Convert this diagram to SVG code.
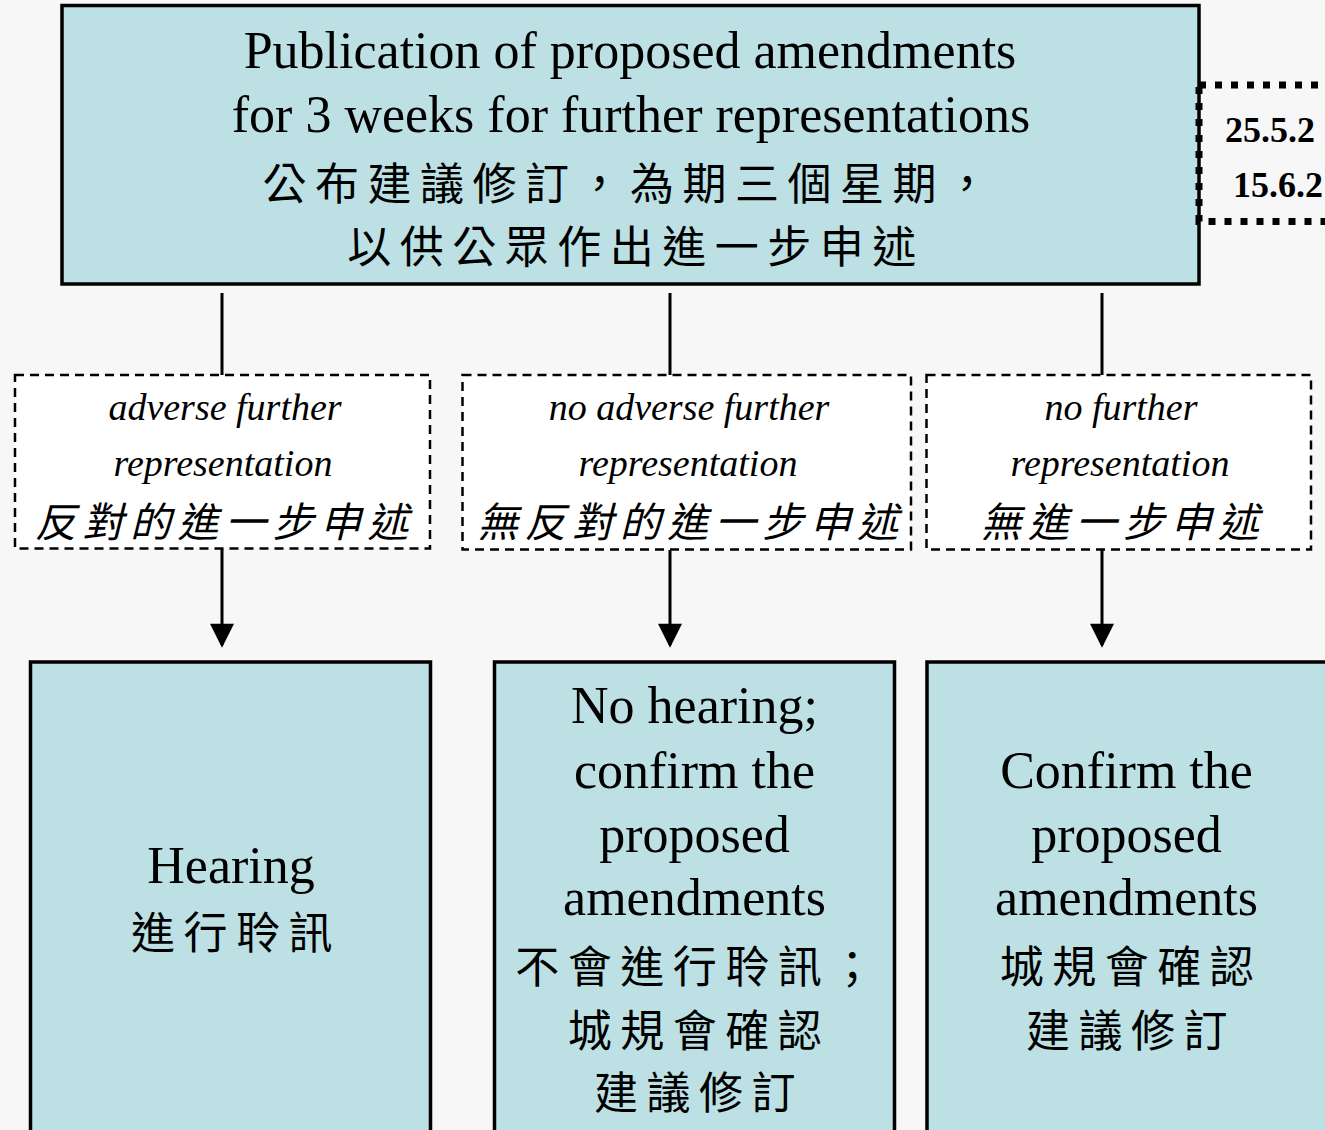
<svg xmlns="http://www.w3.org/2000/svg" width="1325" height="1130" viewBox="0 0 1325 1130">
<defs>
<style>
.box{fill:#bce0e3;stroke:#000;stroke-width:3.5}
.dash{fill:#fff;stroke:#000;stroke-width:2.5;stroke-dasharray:9 6}
.en{font-family:"Liberation Serif","DejaVu Serif",serif;font-size:52px;fill:#000;text-anchor:middle}
.it{font-family:"Liberation Serif","DejaVu Serif",serif;font-size:38px;font-style:italic;fill:#000;text-anchor:middle}
.zh{font-family:"Liberation Serif","Noto Sans CJK TC",serif;font-size:44px;letter-spacing:8.5px;fill:#000;text-anchor:middle}
.zhi{font-family:"Liberation Serif","Noto Sans CJK TC",serif;font-size:41px;letter-spacing:6.5px;font-style:italic;fill:#000;text-anchor:middle}
.date{font-family:"Liberation Serif","DejaVu Serif",serif;font-size:36px;font-weight:bold;fill:#000}
.conn{stroke:#000;stroke-width:3;fill:none}
</style>
<marker id="arrow" markerWidth="26" markerHeight="24" refX="23" refY="13" orient="auto" markerUnits="userSpaceOnUse" viewBox="0 0 26 26">
<path d="M0,0 L26,13 L0,26 Z" fill="#000"/>
</marker>
</defs>
<rect width="1325" height="1130" fill="#f7f7f7"/>

<g id="publication">
<rect class="box" x="62" y="5.5" width="1137" height="278.5"/>
<text class="en" x="630" y="68">Publication of proposed amendments</text>
<text class="en" x="631" y="132">for 3 weeks for further representations</text>
<text class="zh" x="630" y="200">公布建議修訂，為期三個星期，</text>
<text class="zh" x="636" y="263">以供公眾作出進一步申述</text>
</g>

<g id="date-box">
<rect x="1199" y="85" width="140" height="136.5" fill="none" stroke="#000" stroke-width="7" stroke-dasharray="7 9"/>
<text class="date" x="1225" y="142">25.5.2</text>
<text class="date" x="1233" y="197">15.6.2</text>
</g>

<g id="connectors">
<line class="conn" x1="222" y1="293" x2="222" y2="375"/>
<line class="conn" x1="670" y1="293" x2="670" y2="375"/>
<line class="conn" x1="1102" y1="293" x2="1102" y2="375"/>
<line class="conn" x1="222" y1="549" x2="222" y2="645" marker-end="url(#arrow)"/>
<line class="conn" x1="670" y1="550" x2="670" y2="645" marker-end="url(#arrow)"/>
<line class="conn" x1="1102" y1="550" x2="1102" y2="645" marker-end="url(#arrow)"/>
</g>

<g id="adverse">
<rect class="dash" x="15" y="375" width="415" height="173.5"/>
<text class="it" x="225" y="420">adverse further</text>
<text class="it" x="223" y="476">representation</text>
<text class="zhi" x="225" y="537">反對的進一步申述</text>
</g>

<g id="no-adverse">
<rect class="dash" x="462.5" y="375" width="448.5" height="174.5"/>
<text class="it" x="689" y="420">no adverse further</text>
<text class="it" x="688" y="476">representation</text>
<text class="zhi" x="691" y="537">無反對的進一步申述</text>
</g>

<g id="no-further">
<rect class="dash" x="926.5" y="375" width="384.5" height="174.5"/>
<text class="it" x="1121" y="420">no further</text>
<text class="it" x="1120" y="476">representation</text>
<text class="zhi" x="1123" y="537">無進一步申述</text>
</g>

<g id="hearing">
<rect class="box" x="30.5" y="662" width="400" height="490"/>
<text class="en" x="231" y="883">Hearing</text>
<text class="zh" x="236" y="949">進行聆訊</text>
</g>

<g id="no-hearing">
<rect class="box" x="494.5" y="662" width="400" height="490"/>
<text class="en" x="694.5" y="723">No hearing;</text>
<text class="en" x="694.5" y="788">confirm the</text>
<text class="en" x="694.5" y="852">proposed</text>
<text class="en" x="694.5" y="915">amendments</text>
<text class="zh" x="699" y="983">不會進行聆訊；</text>
<text class="zh" x="699" y="1047">城規會確認</text>
<text class="zh" x="699" y="1109">建議修訂</text>
</g>

<g id="confirm">
<rect class="box" x="927" y="662" width="400" height="490"/>
<text class="en" x="1126.5" y="788">Confirm the</text>
<text class="en" x="1126.5" y="852">proposed</text>
<text class="en" x="1126.5" y="915">amendments</text>
<text class="zh" x="1131" y="983">城規會確認</text>
<text class="zh" x="1131" y="1047">建議修訂</text>
</g>
</svg>
